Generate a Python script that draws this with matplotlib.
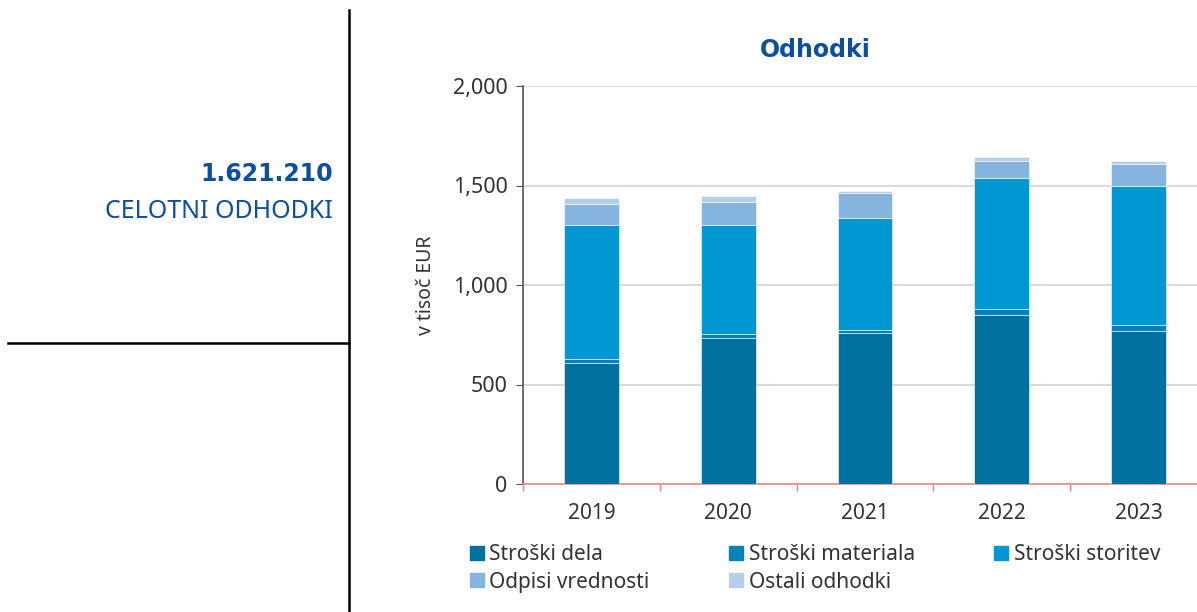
import numpy as np
import matplotlib
matplotlib.use("Agg")
import matplotlib.pyplot as plt
from matplotlib.lines import Line2D
from matplotlib.ticker import FuncFormatter

plt.rcParams['font.family'] = ['Noto Sans', 'DejaVu Sans']

years = ['2019', '2020', '2021', '2022', '2023']
stroski_dela = [607, 733, 758, 850, 771]
stroski_materiala = [20, 22, 18, 29, 29]
stroski_storitev = [672, 544, 563, 658, 695]
odpisi_vrednosti = [107, 116, 123, 86, 112]
ostali_odhodki = [32, 30, 10, 21, 14]

series = [stroski_dela, stroski_materiala, stroski_storitev, odpisi_vrednosti, ostali_odhodki]
labels = ['Stroški dela', 'Stroški materiala', 'Stroški storitev',
          'Odpisi vrednosti', 'Ostali odhodki']
colors = ['#00709F', '#0082BA', '#0097D3', '#85B4DE', '#B5CFEA']

total_text = '1.621.210'
total_label = 'CELOTNI ODHODKI'
blue = '#0B4EA2'

fig = plt.figure(figsize=(11.97, 6.12), dpi=100)
ax = fig.add_axes([523 / 1197, 1 - 484 / 612, 684 / 1197, 398 / 612])

x = np.arange(len(years))
bottom = np.zeros(len(years))
for vals, lab, col in zip(series, labels, colors):
    ax.bar(x, vals, width=0.4, bottom=bottom, color=col, label=lab,
           edgecolor='white', linewidth=0.4, zorder=3)
    bottom += np.array(vals)

ax.set_xlim(-0.5, len(years) - 0.5)
ax.set_ylim(0, 2000)
ax.set_yticks([0, 500, 1000, 1500, 2000])
ax.yaxis.set_major_formatter(FuncFormatter(lambda v, p: f'{int(v):,}'))
ax.grid(axis='y', color='#DADADA', linewidth=1.5, zorder=0)
ax.set_xticks(x)
ax.set_xticklabels(years)
ax.set_xticks(np.arange(len(years)) - 0.5, minor=True)
ax.tick_params(axis='x', which='major', length=0, labelsize=15, colors='#333333', pad=14)
ax.tick_params(axis='x', which='minor', length=5, color='#E08080', width=1)
ax.tick_params(axis='y', length=5, color='#555555', labelsize=15.5, labelcolor='#333333', pad=6)
for s in ['top', 'right']:
    ax.spines[s].set_visible(False)
ax.spines['left'].set_color('#555555')
ax.spines['left'].set_linewidth(1.2)
ax.spines['bottom'].set_color('#E08A8A')
ax.spines['bottom'].set_linewidth(1.2)
ax.set_ylabel('v tisoč EUR', fontsize=14, color='#333333', labelpad=12)

fig.text(815 / 1197, 1 - 50 / 612, 'Odhodki', fontsize=17, fontweight='bold',
         family='DejaVu Sans', color=blue, ha='center', va='center')

# legend, filled row by row (matplotlib fills columns first)
handles = [Line2D([], [], marker='s', linestyle='none', markersize=10,
                  markerfacecolor=c, markeredgecolor=c) for c in colors]
order = [0, 3, 1, 4, 2]
leg = fig.legend([handles[i] for i in order], [labels[i] for i in order],
                 ncol=3, loc='upper left',
                 bbox_to_anchor=(456 / 1197, 1 - 536 / 612), frameon=False,
                 fontsize=15, handletextpad=0.0, columnspacing=3.55,
                 labelspacing=0.3, borderaxespad=0, handlelength=1.2)
for t in leg.get_texts():
    t.set_color('#333333')

# left panel
fig.text(333 / 1197, 1 - 174 / 612, total_text, fontsize=17, fontweight='bold',
         family='DejaVu Sans', color=blue, ha='right', va='center')
fig.text(333 / 1197, 1 - 212 / 612, total_label, fontsize=18,
         color=blue, ha='right', va='center')
fig.add_artist(Line2D([349 / 1197, 349 / 1197], [1 - 10 / 612, 0], color='black',
                      linewidth=1.8, transform=fig.transFigure))
fig.add_artist(Line2D([8 / 1197, 349 / 1197], [1 - 343 / 612, 1 - 343 / 612], color='black',
                      linewidth=1.8, transform=fig.transFigure))

fig.savefig('out.png', dpi=100)
